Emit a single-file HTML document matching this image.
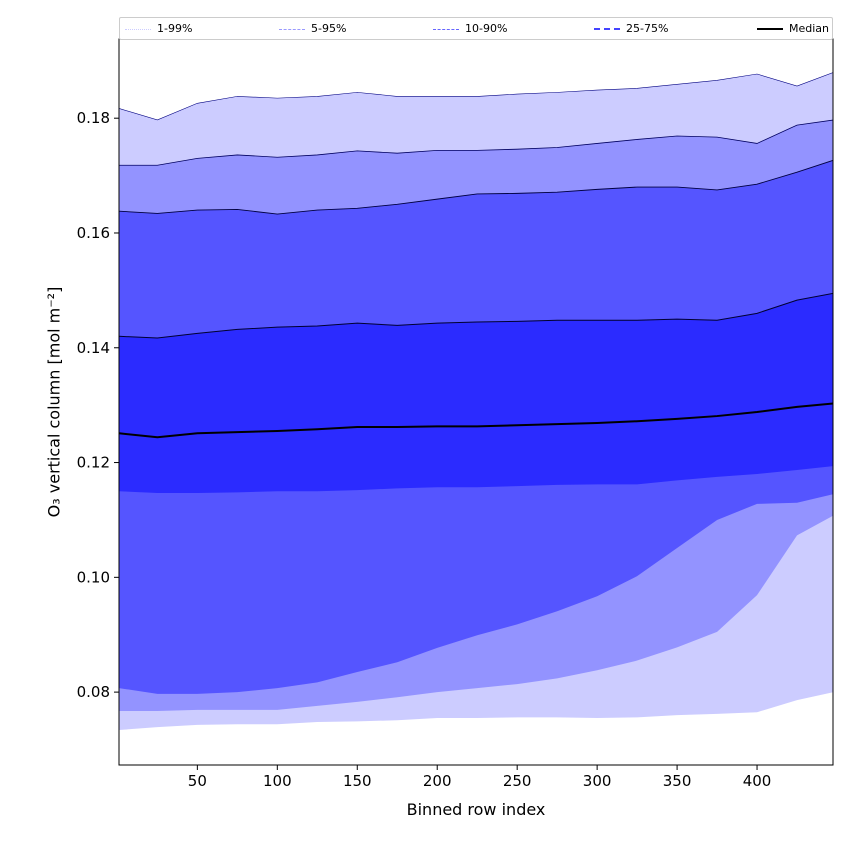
<!DOCTYPE html>
<html><head><meta charset="utf-8"><style>
body{margin:0;background:#fff;font-family:"DejaVu Sans","Liberation Sans",sans-serif}
</style></head><body>
<svg id="chart" width="850" height="850" xmlns="http://www.w3.org/2000/svg" font-family="DejaVu Sans, Liberation Sans, sans-serif"></svg>
<script>
const xs=[1,25,50,75,100,125,150,175,200,225,250,275,300,325,350,375,400,425,448];
const p99=[.1817,.1797,.1826,.1838,.1835,.1838,.1845,.1838,.1838,.1838,.1842,.1845,.1849,.1852,.1859,.1866,.1877,.1856,.188];
const p95=[.1718,.1718,.173,.1736,.1732,.1736,.1743,.1739,.1744,.1744,.1746,.1749,.1756,.1763,.1769,.1767,.1756,.1788,.1797];
const p90=[.1638,.1634,.164,.1641,.1633,.164,.1643,.165,.1659,.1668,.1669,.1671,.1676,.168,.168,.1675,.1685,.1706,.1727];
const p75=[.142,.1417,.1425,.1432,.1436,.1438,.1443,.1439,.1443,.1445,.1446,.1448,.1448,.1448,.145,.1448,.146,.1483,.1495];
const med=[.1251,.1244,.1251,.1253,.1255,.1258,.1262,.1262,.1263,.1263,.1265,.1267,.1269,.1272,.1276,.1281,.1288,.1297,.1303];
const p25=[.115,.1147,.1147,.1148,.115,.115,.1152,.1155,.1157,.1157,.1159,.1161,.1162,.1162,.1169,.1175,.118,.1187,.1194];
const p10=[.0807,.0797,.0797,.08,.0807,.0817,.0835,.0852,.0877,.0899,.0918,.0941,.0967,.1002,.1051,.11,.1128,.113,.1145];
const p5=[.0767,.0767,.0769,.0769,.0769,.0776,.0783,.0791,.08,.0807,.0814,.0824,.0838,.0855,.0878,.0905,.0969,.1073,.1108];
const p1=[.0734,.0739,.0743,.0744,.0744,.0748,.0749,.0751,.0755,.0755,.0756,.0756,.0755,.0756,.076,.0762,.0765,.0786,.08];
const xTicks=[50,100,150,200,250,300,350,400];
const yTicks=[0.08,0.10,0.12,0.14,0.16,0.18];
const L=119,R=833,T=39,B=765,x0=1,x1=447.5,y0=0.0673,y1=0.1938;
const sx=v=>L+(v-x0)/(x1-x0)*(R-L), sy=v=>B-(v-y0)/(y1-y0)*(B-T);
const svg=document.getElementById('chart');const NS='http://www.w3.org/2000/svg';
function mk(t,a,parent){const e=document.createElementNS(NS,t);for(const k in a)e.setAttribute(k,a[k]);(parent||svg).appendChild(e);return e;}
const cp=mk('clipPath',{id:'clip'});mk('rect',{x:L,y:T,width:R-L,height:B-T},cp);
const g=mk('g',{'clip-path':'url(#clip)'});
function band(lo,hi,col,name){const pts=xs.map((x,i)=>sx(x)+','+sy(hi[i])).concat(xs.map((x,i)=>sx(x)+','+sy(lo[i])).reverse());
const p=mk('polygon',{points:pts.join(' '),fill:col},g);}
function line(arr,col,w,name){const p=mk('polyline',{points:xs.map((x,i)=>sx(x)+','+sy(arr[i])).join(' '),fill:'none',stroke:col,'stroke-width':w},g);}
band(p1,p99,'#ccccff','band-1-99');band(p5,p95,'#9393ff','band-5-95');band(p10,p90,'#5555ff','band-10-90');band(p25,p75,'#2b2bff','band-25-75');
line(p99,'#000080',0.6,'line-p99');line(p95,'#000060',0.8,'line-p95');line(p90,'#000040',0.9,'line-p90');line(p75,'#000030',1,'line-p75');
line(med,'#000',2,'median-line');
mk('rect',{x:L,y:T,width:R-L,height:B-T,fill:'none',stroke:'#000','stroke-width':1});
xTicks.forEach(v=>{const x=sx(v);mk('line',{x1:x,x2:x,y1:B,y2:B+5,stroke:'#000'});const t=mk('text',{x:x,y:B+21,'font-size':15,'text-anchor':'middle'});t.textContent=v;});
yTicks.forEach(v=>{const y=sy(v);mk('line',{x1:L-5,x2:L,y1:y,y2:y,stroke:'#000'});const t=mk('text',{x:L-9,y:y+5,'font-size':15,'text-anchor':'end'});t.textContent=v.toFixed(2);});
</script>
<div style="position:absolute;left:0;width:952px;top:800px;text-align:center;font-size:16px">Binned row index</div>
<div style="position:absolute;left:54px;top:402px;transform:translate(-50%,-50%) rotate(-90deg);white-space:nowrap;font-size:16px">O₃ vertical column [mol m⁻²]</div>
<div style="position:absolute;left:119px;top:17px;width:712px;height:21px;border:1px solid #ccc;border-radius:2px;font-size:11px;background:#fff">
<span style="position:absolute;left:5px;top:4px"><span style="display:inline-block;width:26px;border-top:1px dotted #ccccff;vertical-align:middle;margin-right:6px"></span>1-99%</span>
<span style="position:absolute;left:159px;top:4px"><span style="display:inline-block;width:26px;border-top:1px dashed #9999ff;vertical-align:middle;margin-right:6px"></span>5-95%</span>
<span style="position:absolute;left:313px;top:4px"><span style="display:inline-block;width:26px;border-top:1.5px dashed #6666ff;vertical-align:middle;margin-right:6px"></span>10-90%</span>
<span style="position:absolute;left:474px;top:4px"><span style="display:inline-block;width:26px;border-top:2px dashed #4444ff;vertical-align:middle;margin-right:6px"></span>25-75%</span>
<span style="position:absolute;right:3px;top:4px"><span style="display:inline-block;width:26px;border-top:2px solid #000;vertical-align:middle;margin-right:6px"></span>Median</span>
</div>
</body></html>
